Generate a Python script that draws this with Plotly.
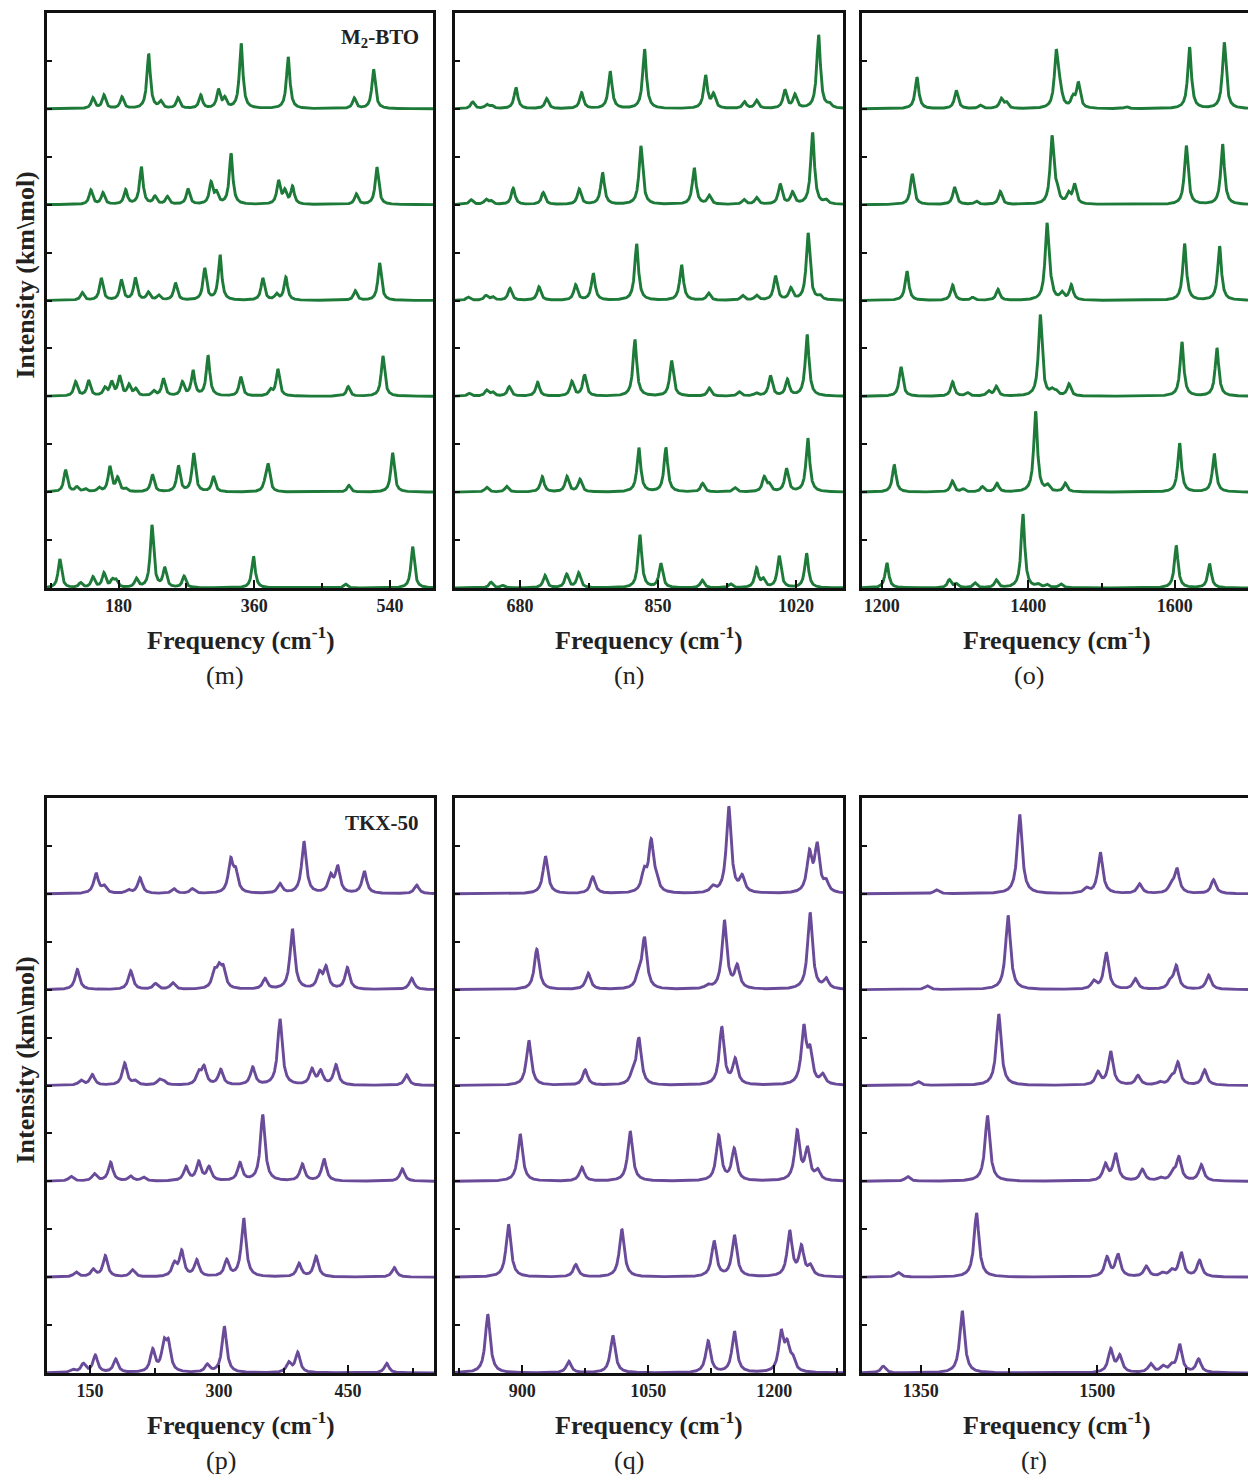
import numpy as np
import plotly.graph_objects as go

# ---------------- data: peak positions (cm-1) and intensities, bottom spectrum first ----------------
m_pos = [
    [102, 129.5, 145.9, 160.5, 171.6, 176.4, 203.5, 224.2, 241.1, 266.8, 358.9, 481, 570],
    [109.6, 124.6, 135.8, 153.9, 168.4, 178.7, 189.3, 224.8, 259.3, 279.6, 305.8, 373.9, 378.3, 485.4, 543.4],
    [122.9, 140.2, 161.8, 170.7, 181.3, 193.7, 202.6, 226.5, 239.4, 264.6, 278.7, 298.6, 342, 381.5, 391.2, 484.5, 530.6],
    [131.8, 157, 183.6, 202.2, 219.4, 233.1, 255.3, 294.2, 314.5, 371.2, 389.4, 401.8, 493.8, 526.2],
    [143.2, 159.2, 189.3, 210.1, 228.2, 244.6, 272, 302.6, 309.7, 329.1, 392.1, 400.4, 410.7, 495.2, 522.6],
    [145.9, 160.5, 184.4, 219.8, 235.8, 258.8, 288.9, 312.4, 320.8, 342.5, 404.9, 492.5, 518.2],
]
m_int = [
    [0.30, 0.05, 0.11, 0.15, 0.07, 0.07, 0.09, 0.65, 0.20, 0.12, 0.33, 0.04, 0.43],
    [0.23, 0.05, 0.03, 0.04, 0.26, 0.14, 0.03, 0.18, 0.27, 0.40, 0.16, 0.06, 0.28, 0.07, 0.41],
    [0.15, 0.16, 0.08, 0.14, 0.20, 0.11, 0.07, 0.05, 0.18, 0.14, 0.26, 0.42, 0.20, 0.06, 0.28, 0.10, 0.42],
    [0.08, 0.23, 0.21, 0.23, 0.08, 0.05, 0.18, 0.33, 0.47, 0.23, 0.06, 0.24, 0.10, 0.39],
    [0.15, 0.12, 0.15, 0.39, 0.08, 0.08, 0.16, 0.22, 0.11, 0.53, 0.24, 0.13, 0.18, 0.11, 0.39],
    [0.11, 0.14, 0.12, 0.57, 0.07, 0.11, 0.14, 0.19, 0.10, 0.68, 0.54, 0.11, 0.41],
]

n_pos = [
    [644.3, 658.7, 710.8, 737.5, 752.3, 827.8, 853.6, 904.5, 939.5, 971.5, 979.7, 999.4, 1033.1],
    [639, 663.6, 707.5, 737.9, 753.9, 826.5, 859.8, 905, 944.8, 980.9, 987, 1008.4, 1034.7],
    [617.6, 639, 646.4, 666.8, 701.8, 744, 759.6, 821.6, 866.8, 913.2, 950.2, 971, 988.6, 1009.5, 1033.8],
    [616.3, 638.1, 646.4, 667.7, 703.4, 748.6, 770.3, 823.7, 879.1, 912.4, 954.3, 971.5, 994.8, 1013.7, 1035, 1049.4],
    [619.7, 638.1, 644.3, 671.7, 708.7, 753, 781.8, 829, 894.7, 913.2, 955.9, 971.5, 1000.6, 1015.8, 1040.5, 1056.8],
    [621.7, 639, 645.1, 675.1, 712.9, 756, 791.2, 833.5, 908.7, 918.5, 956.7, 971.5, 1006.4, 1018.7, 1047.9, 1061],
]
n_int = [
    [0.06, 0.025, 0.13, 0.14, 0.155, 0.55, 0.25, 0.08, 0.04, 0.20, 0.08, 0.33, 0.36],
    [0.05, 0.06, 0.16, 0.16, 0.13, 0.46, 0.46, 0.09, 0.045, 0.15, 0.07, 0.24, 0.56],
    [0.03, 0.06, 0.04, 0.10, 0.145, 0.15, 0.22, 0.59, 0.37, 0.085, 0.045, 0.03, 0.21, 0.17, 0.64],
    [0.035, 0.05, 0.035, 0.125, 0.14, 0.16, 0.28, 0.59, 0.37, 0.075, 0.05, 0.05, 0.25, 0.12, 0.70, 0.04],
    [0.05, 0.05, 0.035, 0.17, 0.125, 0.16, 0.33, 0.61, 0.38, 0.09, 0.05, 0.07, 0.21, 0.12, 0.75, 0.04],
    [0.07, 0.04, 0.03, 0.22, 0.105, 0.165, 0.385, 0.62, 0.34, 0.14, 0.07, 0.085, 0.19, 0.14, 0.77, 0.04],
]

o_pos = [
    [1207, 1292.2, 1301.7, 1327.2, 1356.3, 1392.7, 1413.2, 1425.5, 1444.6, 1602, 1647.5],
    [1217, 1296.2, 1310.9, 1337.2, 1357.3, 1410, 1426.4, 1450.5, 1606.6, 1653.9],
    [1226.2, 1296.7, 1317.1, 1345.8, 1356.3, 1416.4, 1432.4, 1438, 1455.6, 1609.8, 1657.6],
    [1234.4, 1296.7, 1324, 1358.6, 1425.5, 1431, 1446, 1458.7, 1613.4, 1661.2],
    [1241.6, 1299.4, 1329, 1361.8, 1432.4, 1439.2, 1455, 1463.2, 1615.7, 1665.3],
    [1248, 1301.7, 1334.5, 1363.1, 1370, 1438.2, 1443.7, 1461, 1468.3, 1533.8, 1620.2, 1667.6],
]
o_int = [
    [0.26, 0.085, 0.04, 0.05, 0.08, 0.77, 0.03, 0.03, 0.04, 0.44, 0.25],
    [0.285, 0.115, 0.03, 0.055, 0.09, 0.84, 0.06, 0.09, 0.51, 0.40],
    [0.305, 0.15, 0.035, 0.05, 0.10, 0.85, 0.05, 0.04, 0.125, 0.565, 0.50],
    [0.305, 0.16, 0.03, 0.115, 0.79, 0.08, 0.07, 0.155, 0.59, 0.565],
    [0.32, 0.18, 0.035, 0.135, 0.70, 0.12, 0.10, 0.20, 0.615, 0.63],
    [0.33, 0.19, 0.035, 0.10, 0.06, 0.58, 0.16, 0.10, 0.26, 0.02, 0.64, 0.69],
]

p_pos = [
    [129.9, 142.2, 156.2, 179.9, 222.9, 236, 241.1, 286.4, 306.2, 381, 391.5, 495],
    [133.7, 153.8, 167.8, 199.2, 248, 256.6, 274.1, 308.9, 328.7, 393, 412.8, 503.8],
    [127.9, 155, 174, 197.3, 212, 261.6, 276.4, 288.4, 324.4, 350.8, 396.9, 422.1, 513.1],
    [139.5, 152.7, 190.3, 202.3, 230.6, 235.3, 276.4, 282.6, 302, 339.2, 370.9, 408.1, 418.2, 436, 518.2],
    [135.2, 197.3, 226, 246.1, 294.6, 300, 305, 353.5, 385.3, 416.7, 424.4, 449.2, 524],
    [157, 166.3, 194.6, 208.1, 247.7, 269, 313.6, 319.4, 370.9, 398.8, 429.8, 438, 469, 529.8],
]
p_int = [
    [0.03, 0.09, 0.18, 0.14, 0.23, 0.27, 0.27, 0.08, 0.48, 0.10, 0.21, 0.10],
    [0.05, 0.075, 0.22, 0.075, 0.13, 0.26, 0.17, 0.17, 0.61, 0.14, 0.215, 0.10],
    [0.05, 0.075, 0.195, 0.05, 0.04, 0.145, 0.195, 0.14, 0.185, 0.69, 0.175, 0.23, 0.13],
    [0.05, 0.11, 0.23, 0.04, 0.05, 0.04, 0.12, 0.18, 0.16, 0.185, 0.69, 0.16, 0.14, 0.21, 0.11],
    [0.21, 0.195, 0.06, 0.07, 0.16, 0.18, 0.19, 0.11, 0.63, 0.16, 0.22, 0.225, 0.12],
    [0.21, 0.07, 0.035, 0.165, 0.05, 0.05, 0.33, 0.20, 0.10, 0.54, 0.17, 0.27, 0.23, 0.09],
]

q_pos = [
    [859, 955.5, 1007.9, 1121.4, 1152.7, 1208.3, 1215.5, 1222.1],
    [883.7, 963.8, 1018.6, 1128.5, 1152.7, 1218.5, 1232.5, 1243.2],
    [897.6, 971, 1028.6, 1134, 1152.4, 1227.4, 1239.6, 1251.9],
    [907.9, 975, 1031.7, 1038.9, 1137.6, 1153.6, 1235.3, 1242.8, 1257.9],
    [917.4, 978.6, 1038.8, 1045.6, 1121, 1140.8, 1156, 1242.8, 1261.9],
    [927.7, 984, 1045.2, 1053.6, 1059.5, 1126.9, 1146, 1161.9, 1242, 1251.2, 1261.9],
]
q_int = [
    [0.61, 0.12, 0.39, 0.33, 0.43, 0.40, 0.25, 0.12],
    [0.55, 0.13, 0.50, 0.37, 0.43, 0.47, 0.30, 0.10],
    [0.49, 0.145, 0.52, 0.47, 0.33, 0.51, 0.32, 0.10],
    [0.47, 0.16, 0.10, 0.48, 0.60, 0.26, 0.58, 0.31, 0.10],
    [0.42, 0.17, 0.13, 0.52, 0.035, 0.71, 0.23, 0.80, 0.10],
    [0.39, 0.175, 0.20, 0.52, 0.09, 0.06, 0.90, 0.16, 0.40, 0.48, 0.10],
]

r_pos = [
    [1318, 1385.1, 1511.3, 1519, 1545.2, 1555.7, 1563, 1569.9, 1586],
    [1330.7, 1397.3, 1508.2, 1517.5, 1541.6, 1555.2, 1563, 1571.3, 1586.8],
    [1338.7, 1406.6, 1506.8, 1515.5, 1538.2, 1553.5, 1564.2, 1569.3, 1588.3],
    [1347.7, 1416.2, 1500.5, 1511.3, 1534.5, 1553, 1563, 1568.4, 1591.1],
    [1355.4, 1424.1, 1496.9, 1507.6, 1532.3, 1562, 1567, 1594.5],
    [1363.3, 1434, 1490.6, 1502.5, 1535.9, 1562.8, 1567.6, 1598.7],
]
r_int = [
    [0.07, 0.65, 0.24, 0.17, 0.09, 0.06, 0.06, 0.29, 0.14],
    [0.05, 0.67, 0.20, 0.23, 0.11, 0.035, 0.06, 0.25, 0.17],
    [0.05, 0.685, 0.17, 0.28, 0.12, 0.03, 0.08, 0.24, 0.17],
    [0.04, 0.745, 0.13, 0.35, 0.10, 0.03, 0.07, 0.23, 0.16],
    [0.04, 0.775, 0.08, 0.38, 0.11, 0.07, 0.24, 0.15],
    [0.04, 0.825, 0.05, 0.43, 0.10, 0.08, 0.25, 0.145],
]

# axis ranges / ticks per panel
x_ranges = {"m": [85, 597], "n": [600, 1078], "o": [1173, 1700], "p": [100, 550], "q": [820, 1282], "r": [1300, 1628]}
x_tick0 = {"m": 180, "n": 680, "o": 1200, "p": 150, "q": 900, "r": 1350}
x_dtick = {"m": 180, "n": 170, "o": 200, "p": 150, "q": 150, "r": 150}
fwhm = {"m": 5.5, "n": 5.5, "o": 6.0, "p": 6.5, "q": 7.0, "r": 5.0}
panel_labels = ["(m)", "(n)", "(o)", "(p)", "(q)", "(r)"]
sample_names = ["M<sub>2</sub>-BTO", "TKX-50"]

GREEN = "#1d7a39"
PURPLE = "#6a4b9a"
W, H = 1248, 1479
FONT = "Liberation Serif"

# (key, positions, intensities, colour, x-extent px, y-extent px, title centre px, label centre px)
panels = [
    ("m", m_pos, m_int, GREEN, (47, 433), (13, 588), 241, 225),
    ("n", n_pos, n_int, GREEN, (455, 843), (13, 588), 649, 629),
    ("o", o_pos, o_int, GREEN, (862, 1248), (13, 588), 1057, 1029),
    ("p", p_pos, p_int, PURPLE, (47, 434), (798, 1373), 241, 221),
    ("q", q_pos, q_int, PURPLE, (455, 843), (798, 1373), 649, 629),
    ("r", r_pos, r_int, PURPLE, (862, 1248), (798, 1373), 1057, 1034),
]

fig = go.Figure()
layout = dict(width=W, height=H, margin=dict(l=0, r=0, t=0, b=0),
              paper_bgcolor="white", plot_bgcolor="white", showlegend=False)
annotations = []

for i, (key, pos, inten, color, (xl, xr), (yt, yb), tcx, lcx) in enumerate(panels):
    ax = "" if i == 0 else str(i + 1)
    xname, yname = "xaxis" + ax, "yaxis" + ax
    xr_ = x_ranges[key]
    xs = np.arange(xr_[0], xr_[1] + 0.2, 0.2)
    g = fwhm[key] / 2.0
    for k in range(6):
        ys = np.full_like(xs, float(k))
        for x0, h in zip(pos[k], inten[k]):
            ys += h * g * g / ((xs - x0) ** 2 + g * g)
        fig.add_trace(go.Scatter(x=xs, y=ys, mode="lines", line=dict(color=color, width=2.9),
                                 xaxis="x" + ax, yaxis="y" + ax, hoverinfo="skip"))
    last = key in ("o", "r")
    layout[xname] = dict(domain=[xl / W, xr / W], range=xr_, anchor="y" + ax,
                         showline=True, linecolor="#111", linewidth=2.6, mirror=True,
                         ticks="inside", ticklen=8, tickwidth=2.2, tickcolor="#111",
                         tick0=x_tick0[key], dtick=x_dtick[key], showgrid=False, zeroline=False,
                         tickfont=dict(family=FONT, size=18, color="#222", weight="bold"),
                         minor=dict(ticks="inside", ticklen=5, tickwidth=2, tickcolor="#111",
                                    dtick=x_dtick[key] / 2, showgrid=False))
    layout[yname] = dict(domain=[1 - yb / H, 1 - yt / H], range=[0, 6], anchor="x" + ax,
                         showline=True, linecolor="#111", linewidth=2.6, mirror=not last,
                         ticks="inside", ticklen=5, tickwidth=2.2, tickcolor="#111",
                         tick0=0, dtick=0.5, showticklabels=False, showgrid=False, zeroline=False)
    annotations.append(dict(xref="paper", yref="paper", x=tcx / W, y=1 - (yb + 50) / H,
                            text="<b>Frequency</b> <b><span style='font-size:25px'>(cm<sup>-1</sup>)</span></b>",
                            showarrow=False, xanchor="center", yanchor="middle",
                            font=dict(family=FONT, size=26, color="#222")))
    annotations.append(dict(xref="paper", yref="paper", x=lcx / W, y=1 - (yb + 87) / H,
                            text=panel_labels[i], showarrow=False, xanchor="center", yanchor="middle",
                            font=dict(family=FONT, size=26, color="#222")))

for row, (yt, yb) in enumerate([(13, 588), (798, 1373)]):
    annotations.append(dict(xref="paper", yref="paper", x=25 / W, y=1 - ((yt + yb) / 2 - 25) / H,
                            text="<b>Intensity (km\\mol)</b>", textangle=-90, showarrow=False,
                            xanchor="center", yanchor="middle",
                            font=dict(family=FONT, size=26, color="#222")))
    annotations.append(dict(xref="paper", yref="paper", x=421 / W, y=1 - (yt + 25) / H,
                            text="<b>" + sample_names[row] + "</b>", showarrow=False,
                            xanchor="right", yanchor="middle",
                            font=dict(family=FONT, size=21, color="#222")))

layout["annotations"] = annotations
fig.update_layout(**layout)
fig.write_html("out.html")
